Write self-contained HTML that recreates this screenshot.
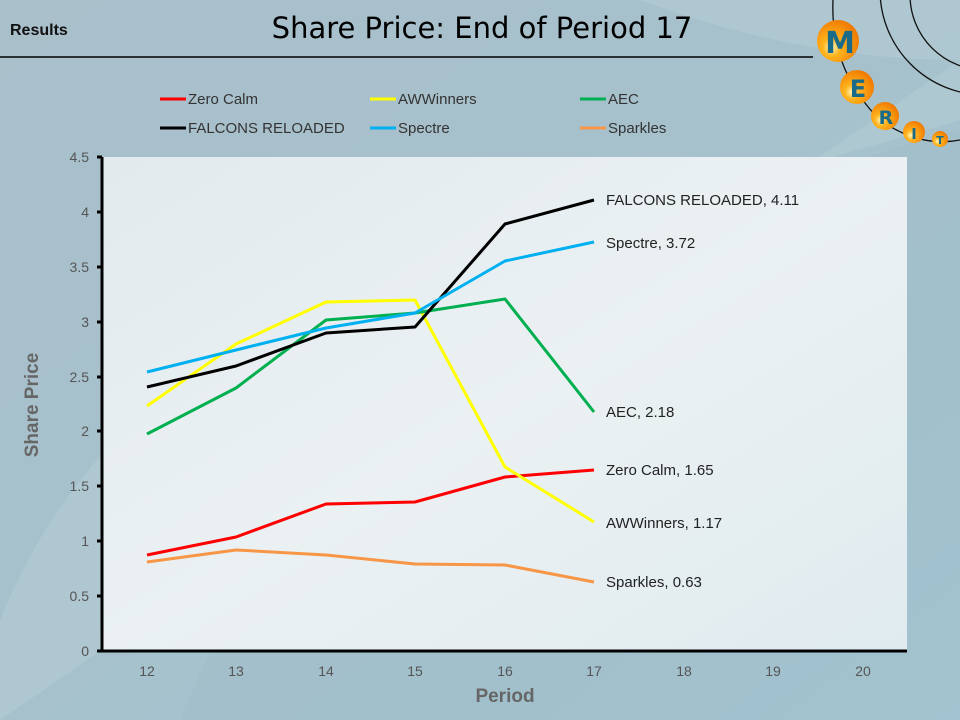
<!DOCTYPE html>
<html><head><meta charset="utf-8"><style>
html,body{margin:0;padding:0;width:960px;height:720px;overflow:hidden;}
svg{display:block;font-family:"Liberation Sans",sans-serif;}
</style></head><body>
<svg width="960" height="720" viewBox="0 0 960 720" xmlns="http://www.w3.org/2000/svg">
<defs>
<linearGradient id="bg" x1="0" y1="0" x2="1" y2="1">
<stop offset="0" stop-color="#a9c0cb"/><stop offset="0.5" stop-color="#a6c1cc"/><stop offset="1" stop-color="#a4c9d6"/>
</linearGradient>
<linearGradient id="pa" x1="0" y1="0" x2="1" y2="1">
<stop offset="0" stop-color="#e2eaee"/><stop offset="0.5" stop-color="#ebf1f3"/><stop offset="1" stop-color="#e0ebef"/>
</linearGradient>
<radialGradient id="ball" cx="0.35" cy="0.65" r="0.7">
<stop offset="0" stop-color="#fff8c0"/><stop offset="0.3" stop-color="#ffb41e"/><stop offset="1" stop-color="#f07800"/>
</radialGradient>
</defs>
<rect width="960" height="720" fill="url(#bg)"/>
<path d="M0 720 L0 620 Q120 320 520 240 Q760 180 960 120 L960 0 L640 0 Q800 60 960 60 Z" fill="#b6cdd6" opacity="0.5"/>
<path d="M180 720 Q300 420 620 260 Q800 170 960 130 L960 720 Z" fill="#a0bcc7" opacity="0.5"/>
<line x1="0" y1="57" x2="813" y2="57" stroke="#000" stroke-width="1.5"/>
<text x="10" y="35" font-size="16" font-weight="bold" fill="#111">Results</text>
<text x="482" y="38" font-size="29" text-anchor="middle" fill="#000" font-family="'DejaVu Sans',sans-serif">Share Price: End of Period 17</text>
<path d="M833 0 Q830 70 880 120 Q920 148 960 140" fill="none" stroke="#111" stroke-width="1.3"/>
<circle cx="985" cy="-10" r="105" fill="none" stroke="#111" stroke-width="1.3"/>
<circle cx="985" cy="-5" r="75" fill="none" stroke="#111" stroke-width="1.3"/>
<g font-family="'DejaVu Sans',sans-serif" font-weight="bold" fill="#1a6a8a" text-anchor="middle">
<circle cx="838" cy="41" r="21" fill="url(#ball)"/><text x="840" y="53" font-size="30">M</text>
<circle cx="857" cy="87" r="17" fill="url(#ball)"/><text x="858" y="97" font-size="24">E</text>
<circle cx="885" cy="116" r="14" fill="url(#ball)"/><text x="886" y="124" font-size="19">R</text>
<circle cx="914" cy="132" r="11" fill="url(#ball)"/><text x="914" y="139" font-size="15">I</text>
<circle cx="940" cy="139" r="8" fill="url(#ball)"/><text x="940" y="144" font-size="11">T</text>
</g>
<g font-size="15" fill="#333">
<line x1="160" y1="99" x2="186" y2="99" stroke="#ff0000" stroke-width="3"/><text x="188" y="104">Zero Calm</text>
<line x1="370" y1="99" x2="396" y2="99" stroke="#ffff00" stroke-width="3"/><text x="398" y="104">AWWinners</text>
<line x1="580" y1="99" x2="606" y2="99" stroke="#00b050" stroke-width="3"/><text x="608" y="104">AEC</text>
<line x1="160" y1="128" x2="186" y2="128" stroke="#000" stroke-width="3"/><text x="188" y="133">FALCONS RELOADED</text>
<line x1="370" y1="128" x2="396" y2="128" stroke="#00b0f0" stroke-width="3"/><text x="398" y="133">Spectre</text>
<line x1="580" y1="128" x2="606" y2="128" stroke="#f79646" stroke-width="3"/><text x="608" y="133">Sparkles</text>
</g>
<rect x="102" y="157" width="805" height="494" fill="url(#pa)"/>
<line x1="102" y1="157" x2="102" y2="652" stroke="#000" stroke-width="3"/>
<line x1="101" y1="651" x2="907" y2="651" stroke="#000" stroke-width="3"/>
<g stroke="#000" stroke-width="3">
<line x1="97" y1="157" x2="102" y2="157"/><line x1="97" y1="212" x2="102" y2="212"/><line x1="97" y1="267" x2="102" y2="267"/><line x1="97" y1="322" x2="102" y2="322"/><line x1="97" y1="377" x2="102" y2="377"/><line x1="97" y1="431" x2="102" y2="431"/><line x1="97" y1="486" x2="102" y2="486"/><line x1="97" y1="541" x2="102" y2="541"/><line x1="97" y1="596" x2="102" y2="596"/><line x1="97" y1="651" x2="102" y2="651"/>
</g>
<g font-size="14" fill="#555" text-anchor="end">
<text x="89" y="162">4.5</text><text x="89" y="217">4</text><text x="89" y="272">3.5</text><text x="89" y="327">3</text><text x="89" y="382">2.5</text><text x="89" y="436">2</text><text x="89" y="491">1.5</text><text x="89" y="546">1</text><text x="89" y="601">0.5</text><text x="89" y="656">0</text>
</g>
<g font-size="14" fill="#555" text-anchor="middle">
<text x="147" y="676">12</text><text x="236" y="676">13</text><text x="326" y="676">14</text><text x="415" y="676">15</text><text x="505" y="676">16</text><text x="594" y="676">17</text><text x="684" y="676">18</text><text x="773" y="676">19</text><text x="863" y="676">20</text>
</g>
<text x="505" y="702" font-size="19" font-weight="bold" fill="#666" text-anchor="middle">Period</text>
<text transform="translate(38,405) rotate(-90)" font-size="19" font-weight="bold" fill="#666" text-anchor="middle">Share Price</text>
<g fill="none" stroke-width="3" stroke-linejoin="round">
<polyline stroke="#ff0000" points="147,555 236,537 326,504 415,502 505,477 594,470"/>
<polyline stroke="#ffff00" points="147,406 236,344 326,302 415,300 505,467 594,522"/>
<polyline stroke="#00b050" points="147,434 236,388 326,320 415,313 505,299 594,412"/>
<polyline stroke="#000000" points="147,387 236,366 326,333 415,327 505,224 594,200"/>
<polyline stroke="#00b0f0" points="147,372 236,350 326,328 415,313 505,261 594,242"/>
<polyline stroke="#f79646" points="147,562 236,550 326,555 415,564 505,565 594,582"/>
</g>
<g font-size="15" fill="#222">
<text x="606" y="205">FALCONS RELOADED, 4.11</text>
<text x="606" y="248">Spectre, 3.72</text>
<text x="606" y="417">AEC, 2.18</text>
<text x="606" y="475">Zero Calm, 1.65</text>
<text x="606" y="528">AWWinners, 1.17</text>
<text x="606" y="587">Sparkles, 0.63</text>
</g>
</svg>
</body></html>
